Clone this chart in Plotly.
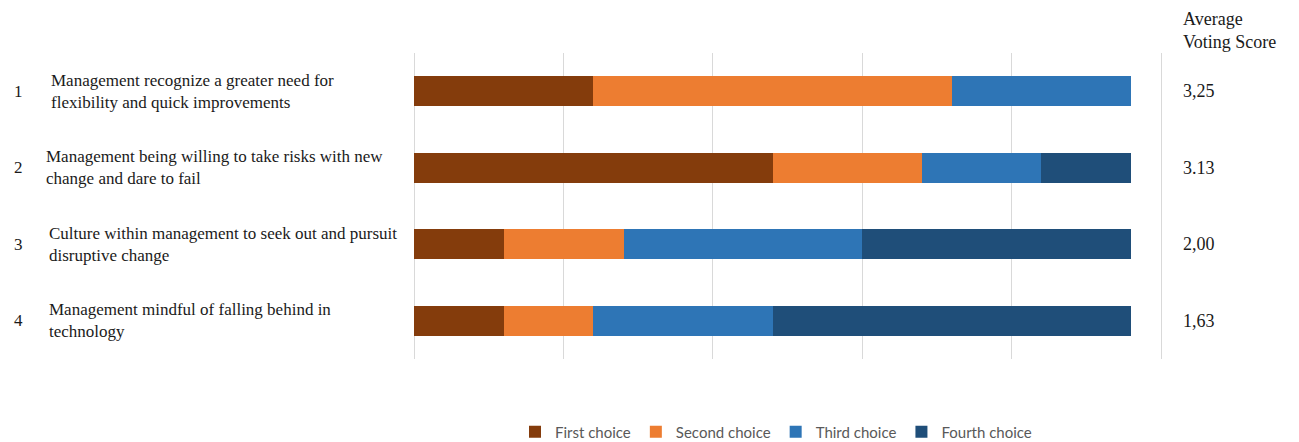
import plotly.graph_objects as go

# Statements voted on (rank order), and the votes each received per preference
statement_ids = ["1", "2", "3", "4"]
statements = [
    "Management recognize a greater need for<br>flexibility and quick improvements",
    "Management being willing to take risks with new<br>change and dare to fail",
    "Culture within management to seek out and pursuit<br>disruptive change",
    "Management mindful of falling behind in<br>technology",
]
first_choice = [2.0, 4.0, 1.0, 1.0]
second_choice = [4.0, 1.67, 1.34, 1.0]
third_choice = [2.0, 1.33, 2.66, 2.0]
fourth_choice = [0.0, 1.0, 3.0, 4.0]
avg_scores = ["3,25", "3.13", "2,00", "1,63"]

series_names = ["First choice", "Second choice", "Third choice", "Fourth choice"]
series_values = [first_choice, second_choice, third_choice, fourth_choice]
series_colors = ["#843C0C", "#ED7D31", "#2E75B6", "#1F4E79"]

W, H = 1299, 442
PAD = 3  # a few px of slack so the outer gridlines are drawn
L, R, T, B = 414 - PAD, 1299 - 1161 - PAD, 53, 83
plot_w = W - L - R
plot_h = H - T - B
x_max = 25 / 3
units_per_px = x_max / (1161 - 414)

def px_to_paper_x(px):
    return (px - L) / plot_w

def px_to_paper_y(py):
    return (H - B - py) / plot_h

fig = go.Figure()
for name, vals, col in zip(series_names, series_values, series_colors):
    fig.add_trace(go.Bar(
        y=statements, x=vals, name=name, orientation="h",
        marker=dict(color=col, line=dict(width=0)),
        width=0.39, hoverinfo="skip",
    ))

serif = "Liberation Serif, Times New Roman, serif"
text_col = "#1a1a1a"
annotations = []
for sid, text, score, xoff in zip(statement_ids, statements, avg_scores, [49, 44, 47, 47]):
    annotations.append(dict(
        x=px_to_paper_x(18), y=text, xref="paper", yref="y", text=sid,
        showarrow=False, xanchor="center", yanchor="middle",
        font=dict(family=serif, size=17, color=text_col),
    ))
    annotations.append(dict(
        x=px_to_paper_x(xoff), y=text, xref="paper", yref="y", text=text,
        showarrow=False, xanchor="left", yanchor="middle", align="left",
        font=dict(family=serif, size=17, color=text_col),
    ))
    annotations.append(dict(
        x=px_to_paper_x(1181), y=text, xref="paper", yref="y", text=score,
        showarrow=False, xanchor="left", yanchor="middle",
        font=dict(family=serif, size=18, color=text_col),
    ))
annotations.append(dict(
    x=px_to_paper_x(1181), y=px_to_paper_y(30), xref="paper", yref="paper",
    text="Average<br>Voting Score", showarrow=False, xanchor="left", yanchor="middle",
    align="left", font=dict(family=serif, size=18, color=text_col),
))

grid_col = "#D9D9D9"
fig.update_layout(
    width=W, height=H,
    margin=dict(l=L, r=R, t=T, b=B, pad=0),
    barmode="stack",
    plot_bgcolor="white", paper_bgcolor="white",
    xaxis=dict(
        range=[-PAD * units_per_px, x_max + PAD * units_per_px], tick0=0, dtick=5 / 3,
        showgrid=True, gridcolor=grid_col, gridwidth=1,
        zeroline=True, zerolinecolor=grid_col, zerolinewidth=1,
        showticklabels=False, showline=False, ticks="",
    ),
    yaxis=dict(
        type="category", autorange="reversed", showticklabels=False,
        showgrid=False, zeroline=False, showline=False, ticks="",
    ),
    legend=dict(
        orientation="h", x=px_to_paper_x(776), xanchor="center",
        yref="container", y=(H - 432) / H, yanchor="middle",
        font=dict(family="Lato, Open Sans, sans-serif", size=15, color="#595959"),
        itemwidth=30, traceorder="normal",
    ),
    annotations=annotations,
    showlegend=True,
)

fig.write_html("out.html")
